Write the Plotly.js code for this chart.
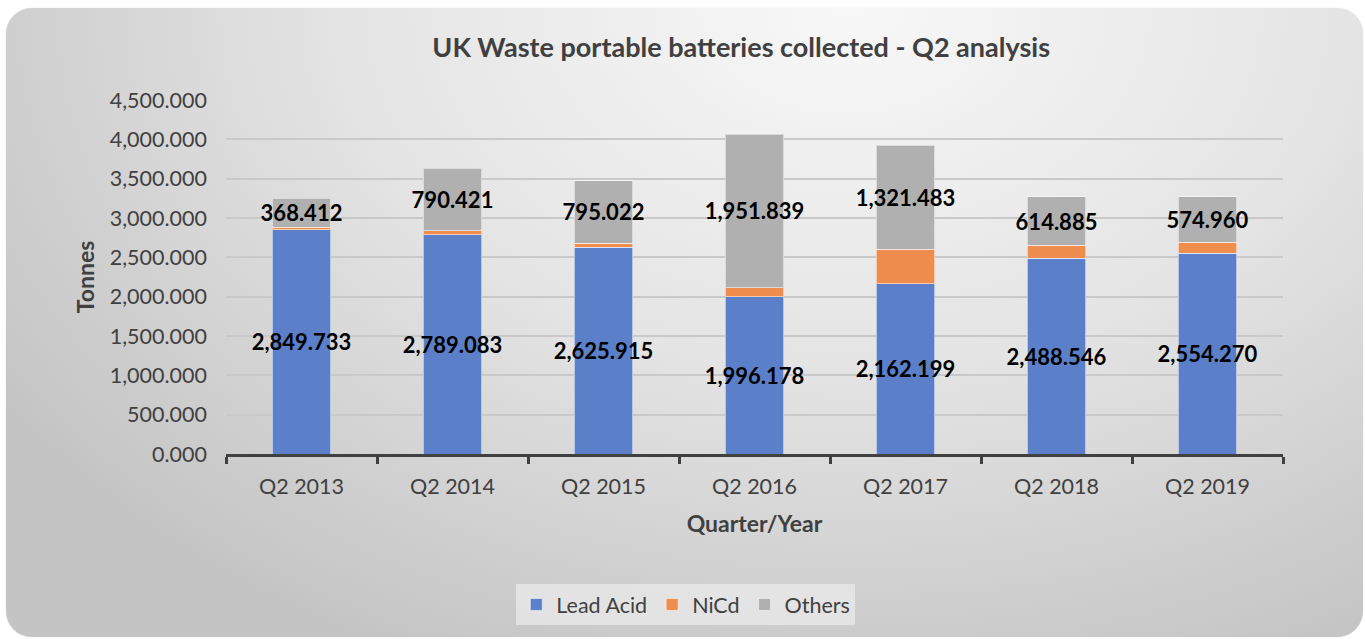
<!DOCTYPE html>
<html>
<head>
<meta charset="utf-8">
<script src="https://cdn.plot.ly/plotly-3.0.1.min.js"></script>
<style>
  html, body { margin:0; padding:0; background:#ffffff; width:1365px; height:639px; overflow:hidden; }
  #card { position:absolute; left:6px; top:8px; width:1357px; height:629px; border-radius:26px;
    background: radial-gradient(ellipse 75% 115% at 62% 0%, #f8f8f8 0%, #e4e4e4 50%, #cdcdcd 85%, #c4c4c4 100%);
    box-shadow: 0 0 1px rgba(0,0,0,0.25); }
  #chart { position:absolute; left:0; top:0; width:1365px; height:639px; }
</style>
</head>
<body>
<div id="card"></div>
<div id="chart"></div>
<script>
const categories = ["Q2 2013", "Q2 2014", "Q2 2015", "Q2 2016", "Q2 2017", "Q2 2018", "Q2 2019"];
const leadAcid = [2849.733, 2789.083, 2625.915, 1996.178, 2162.199, 2488.546, 2554.270];
const nicd     = [30, 50, 55, 118, 440, 165, 140];
const others   = [368.412, 790.421, 795.022, 1951.839, 1321.483, 614.885, 574.960];

const FONT = "Lato, 'Open Sans', sans-serif";
const labelFont = {family: FONT, size: 22, color: '#000000', weight: 'bold'};
const barLine = {color: 'rgba(255,255,255,0.55)', width: 1};

const traces = [
  {type:'bar', name:'Lead Acid', x:categories, y:leadAcid,
   marker:{color:'#5B80C9', line:barLine},
   texttemplate:'%{y:,.3f}', textposition:'inside', insidetextanchor:'middle', textangle:0,
   constraintext:'none', textfont:labelFont, hoverinfo:'x+y+name'},
  {type:'bar', name:'NiCd', x:categories, y:nicd,
   marker:{color:'#EE8D4E', line:barLine}, hoverinfo:'x+y+name'},
  {type:'bar', name:'Others', x:categories, y:others,
   marker:{color:'#B0B0B0', line:barLine},
   texttemplate:'%{y:,.3f}', textposition:'inside', insidetextanchor:'middle', textangle:0,
   constraintext:'none', textfont:labelFont, hoverinfo:'x+y+name'}
];

const layout = {
  width:1365, height:639,
  paper_bgcolor:'rgba(0,0,0,0)', plot_bgcolor:'rgba(0,0,0,0)',
  margin:{l:226, r:82, t:100, b:185},
  barmode:'stack', bargap:0.61,
  font:{family:FONT, size:21.5, color:'#404040'},
  title:{text:'UK Waste portable batteries collected - Q2 analysis',
         font:{family:FONT, size:27, color:'#404040', weight:'bold'},
         xref:'container', x:0.543, xanchor:'center', y:0.925, yanchor:'middle'},
  xaxis:{type:'category', showline:true, linecolor:'#404040', linewidth:3,
         ticks:'outside', tickson:'boundaries', ticklen:7, tickwidth:3, tickcolor:'#404040',
         ticklabelstandoff:11,
         tickfont:{family:FONT, size:21.5, color:'#404040'},
         showgrid:false, zeroline:false,
         title:{text:'Quarter/Year', font:{family:FONT, size:23, color:'#404040', weight:'bold'}, standoff:19}},
  yaxis:{range:[0,4500], dtick:500, tick0:0, tickformat:',.3f',
         showgrid:true, gridcolor:'#c9c9c9', gridwidth:2, zeroline:false, showline:false,
         ticks:'', ticklabelstandoff:18,
         tickfont:{family:FONT, size:21.5, color:'#404040'},
         title:{text:'Tonnes', font:{family:FONT, size:23, color:'#404040', weight:'bold'}, standoff:8}},
  legend:{orientation:'h', x:0.435, xanchor:'center', y:-0.425, yanchor:'middle',
          bgcolor:'rgba(236,236,236,0.7)', borderwidth:0,
          font:{family:FONT, size:21.5, color:'#404040'}, traceorder:'normal', itemwidth:30},
  showlegend:true
};

Plotly.newPlot('chart', traces, layout, {displayModeBar:false, staticPlot:true});
</script>
</body>
</html>
